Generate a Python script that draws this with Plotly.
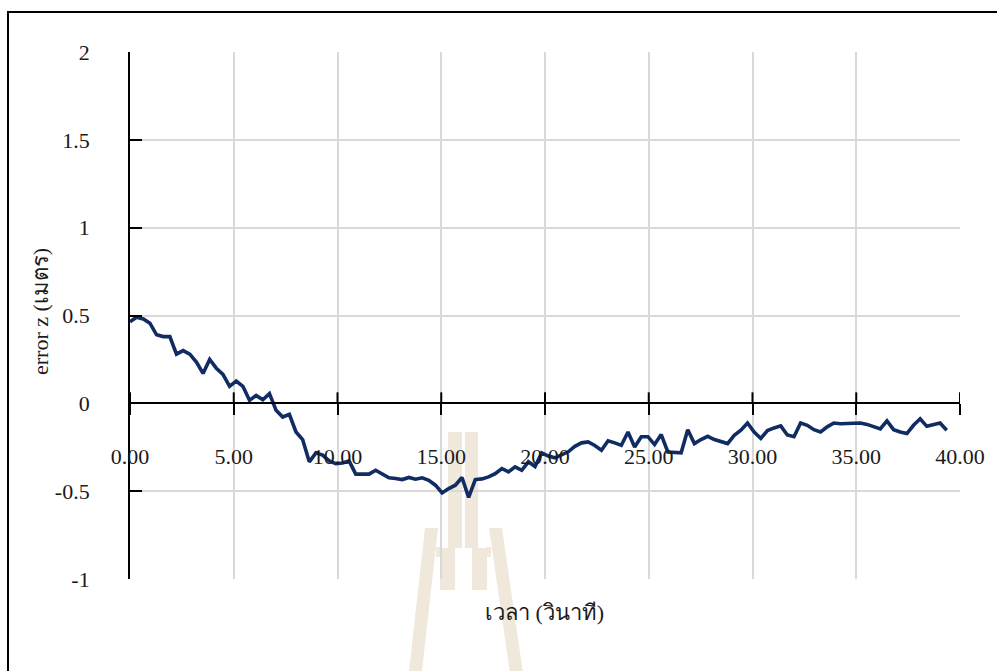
import plotly.graph_objects as go

# time (s) and vertical position error (m)
time_s = [
    0.00, 0.32, 0.64, 0.96, 1.28, 1.60, 1.92, 2.24, 2.56, 2.88,
    3.20, 3.52, 3.84, 4.16, 4.48, 4.80, 5.12, 5.44, 5.76, 6.08,
    6.40, 6.72, 7.04, 7.36, 7.68, 8.00, 8.32, 8.64, 8.96, 9.28,
    9.60, 9.92, 10.24, 10.56, 10.88, 11.20, 11.52, 11.84, 12.16, 12.48,
    12.80, 13.12, 13.44, 13.76, 14.08, 14.40, 14.72, 15.04, 15.36, 15.68,
    16.00, 16.32, 16.64, 16.96, 17.28, 17.60, 17.92, 18.24, 18.56, 18.88,
    19.20, 19.52, 19.84, 20.16, 20.48, 20.80, 21.12, 21.44, 21.76, 22.08,
    22.40, 22.72, 23.04, 23.36, 23.68, 24.00, 24.32, 24.64, 24.96, 25.28,
    25.60, 25.92, 26.24, 26.56, 26.88, 27.20, 27.52, 27.84, 28.16, 28.48,
    28.80, 29.12, 29.44, 29.76, 30.08, 30.40, 30.72, 31.04, 31.36, 31.68,
    32.00, 32.32, 32.64, 32.96, 33.28, 33.60, 33.92, 34.24, 34.56, 34.88,
    35.20, 35.52, 35.84, 36.16, 36.48, 36.80, 37.12, 37.44, 37.76, 38.08,
    38.40, 38.72, 39.04, 39.36,
]
error_z = [
    0.465, 0.49, 0.48, 0.456, 0.39, 0.38, 0.38, 0.28, 0.30, 0.28,
    0.235, 0.17, 0.25, 0.20, 0.165, 0.097, 0.127, 0.097, 0.017, 0.045,
    0.02, 0.055, -0.04, -0.078, -0.063, -0.163, -0.206, -0.333, -0.282, -0.295,
    -0.328, -0.343, -0.34, -0.328, -0.403, -0.403, -0.403, -0.381, -0.403, -0.424,
    -0.428, -0.434, -0.422, -0.432, -0.424, -0.438, -0.466, -0.51, -0.485, -0.466,
    -0.422, -0.536, -0.434, -0.43, -0.419, -0.40, -0.371, -0.39, -0.362, -0.381,
    -0.333, -0.36, -0.282, -0.30, -0.31, -0.295, -0.276, -0.245, -0.225, -0.22,
    -0.24, -0.267, -0.213, -0.225, -0.239, -0.163, -0.248, -0.19, -0.19, -0.235,
    -0.178, -0.277, -0.282, -0.282, -0.15, -0.229, -0.206, -0.1875, -0.206, -0.22,
    -0.229, -0.182, -0.153, -0.112, -0.163, -0.2, -0.155, -0.14, -0.128, -0.18,
    -0.19, -0.112, -0.125, -0.15, -0.163, -0.134, -0.112, -0.116, -0.116, -0.116,
    -0.112, -0.12, -0.132, -0.146, -0.10, -0.15, -0.163, -0.172, -0.125, -0.088,
    -0.131, -0.122, -0.112, -0.153,
]

x_ticks = [0, 5, 10, 15, 20, 25, 30, 35, 40]
x_tick_text = ["0.00", "5.00", "10.00", "15.00", "20.00", "25.00", "30.00", "35.00", "40.00"]
y_ticks = [-1, -0.5, 0, 0.5, 1, 1.5, 2]
y_tick_text = ["-1", "-0.5", "0", "0.5", "1", "1.5", "2"]

x_title = "เวลา (วินาที)"
y_title = "error z (เมตร)"

W, H = 997, 671
L, R, T, B = 130, 37, 52, 92
FONT = "Liberation Serif, Times New Roman, serif"


def px(xp):
    return (xp - L) / (W - L - R)


def py(yp):
    return (H - B - yp) / (H - T - B)


fig = go.Figure()
fig.add_trace(go.Scatter(
    x=time_s, y=error_z, mode="lines",
    line=dict(color="#112C62", width=3.6),
    hoverinfo="skip", showlegend=False,
))

shapes = []
# outer frame
shapes.append(dict(type="rect", xref="paper", yref="paper",
                   x0=px(8), x1=px(1010), y0=py(690), y1=py(12),
                   line=dict(color="black", width=2), fillcolor="rgba(0,0,0,0)"))

# faint emblem in the background
EMB = "#F0E9DB"


def poly(pts):
    d = "M " + " L ".join(f"{px(a):.5f},{py(b):.5f}" for a, b in pts) + " Z"
    return dict(type="path", xref="paper", yref="paper", path=d,
                fillcolor=EMB, line=dict(width=0), layer="below")


shapes += [
    poly([(448, 432), (462, 432), (462, 548), (455, 548), (455, 590), (440, 590), (440, 548), (448, 548)]),
    poly([(465, 432), (478, 432), (478, 548), (487, 548), (487, 590), (472, 590), (472, 548), (465, 548)]),
    poly([(436, 547), (441, 547), (441, 557), (436, 557)]),
    poly([(486, 547), (491, 547), (491, 557), (486, 557)]),
    poly([(425, 528), (438, 528), (421, 680), (408, 680)]),
    poly([(489, 528), (502, 528), (524, 680), (511, 680)]),
]

# upper half of the crossing tick marks on the horizontal axis
for xv in x_ticks:
    shapes.append(dict(type="line", xref="x", yref="y", ysizemode="pixel", yanchor=0,
                       x0=xv, x1=xv, y0=0, y1=11, line=dict(color="black", width=2)))

annotations = [
    dict(text=x_title, xref="paper", yref="paper", x=px(544), y=py(612),
         xanchor="center", yanchor="middle", showarrow=False,
         font=dict(family=FONT, size=22, color="#1a1a1a")),
    dict(text=y_title, xref="paper", yref="paper", x=px(40), y=py(312),
         xanchor="center", yanchor="middle", showarrow=False, textangle=-90,
         font=dict(family=FONT, size=22, color="#1a1a1a")),
]

fig.update_layout(
    width=W, height=H,
    margin=dict(l=L, r=R, t=T, b=B, pad=0),
    paper_bgcolor="white", plot_bgcolor="white",
    font=dict(family=FONT, size=22, color="#1a1a1a"),
    shapes=shapes, annotations=annotations,
    xaxis=dict(
        range=[0, 40], tickvals=x_ticks, ticktext=x_tick_text,
        showgrid=True, gridcolor="#d9d9d9", gridwidth=1.5,
        showline=True, linecolor="black", linewidth=1.8,
        ticks="outside", ticklen=11, tickwidth=2, tickcolor="black",
        anchor="free", position=1 / 3, ticklabelstandoff=22,
        zeroline=False, fixedrange=True,
    ),
    yaxis=dict(
        range=[-1, 2], tickvals=y_ticks, ticktext=y_tick_text,
        showgrid=True, gridcolor="#d9d9d9", gridwidth=1.5,
        showline=True, linecolor="black", linewidth=1.8,
        ticks="inside", ticklen=12, tickwidth=2, tickcolor="black",
        ticklabelstandoff=34, zeroline=False, fixedrange=True,
    ),
)

fig.write_html("out.html")
